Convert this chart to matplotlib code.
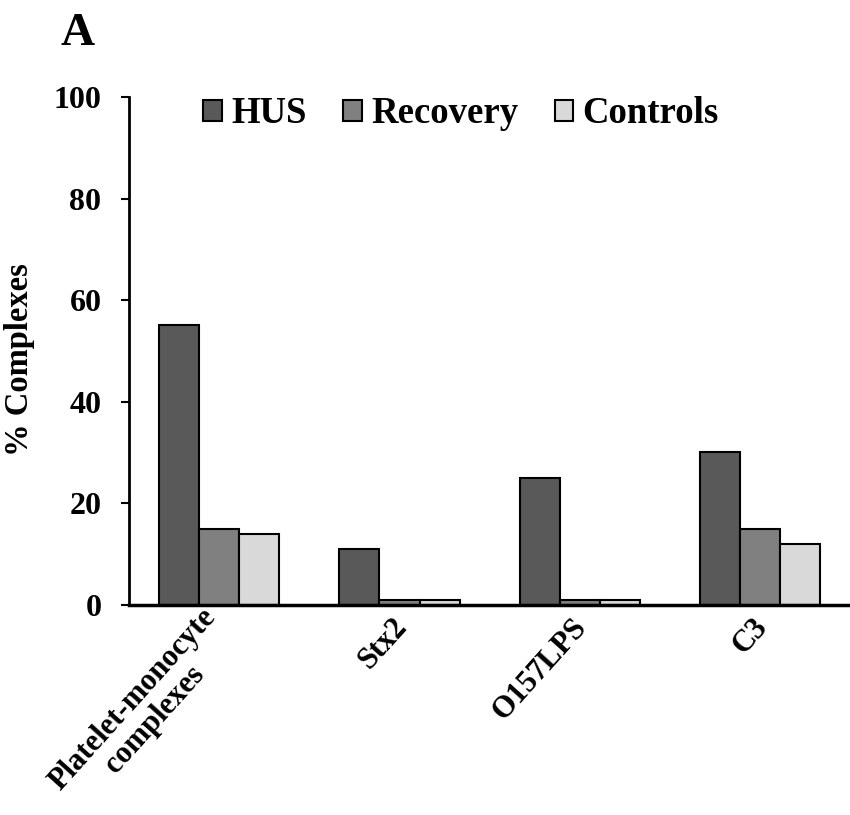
import matplotlib
matplotlib.use("Agg")
import matplotlib.pyplot as plt
import numpy as np

categories = ["Platelet-monocyte\ncomplexes", "Stx2", "O157LPS", "C3"]
series = ["HUS", "Recovery", "Controls"]
hus = [55, 11, 25, 30]
recovery = [15, 1, 1, 15]
controls = [14, 1, 1, 12]
colors = ["#595959", "#808080", "#d9d9d9"]

plt.rcParams["font.family"] = ["Liberation Serif", "DejaVu Serif"]
plt.rcParams["font.weight"] = "bold"

fig = plt.figure(figsize=(8.5, 8.15), dpi=100)
ax = fig.add_axes([0.152, 0.258, 0.848, 0.623])

x = np.arange(len(categories))
w = 0.222
for i, (vals, name) in enumerate(zip([hus, recovery, controls], series)):
    ax.bar(x + (i - 1) * w, vals, width=w, color=colors[i], edgecolor="black",
           linewidth=1.5, label=name, zorder=2)

ax.set_xlim(-0.5, 3.5)
ax.set_ylim(0, 100)
ax.set_yticks([0, 20, 40, 60, 80, 100])
ax.tick_params(axis="y", labelsize=23, length=6, width=1.5, direction="out", pad=14)
ax.set_xticks(x)
ax.set_xticklabels(categories, rotation=48, ha="right", va="center_baseline",
                   rotation_mode="anchor", fontsize=22, fontweight="bold",
                   multialignment="center", linespacing=1.05)
ax.tick_params(axis="x", length=0, pad=11)
for lab in ax.get_yticklabels():
    lab.set_fontweight("bold")

for s in ["top", "right"]:
    ax.spines[s].set_visible(False)
ax.spines["left"].set_linewidth(2)
ax.spines["bottom"].set_linewidth(2.5)
ax.spines["bottom"].set_zorder(3)

ax.set_ylabel("% Complexes", fontsize=23.5, fontweight="bold")
ax.yaxis.set_label_coords(-0.130, 0.482)

leg = ax.legend(ncol=3, loc="upper left", bbox_to_anchor=(0.103, 1.001),
                frameon=False, handlelength=0.5, handleheight=0.5,
                handletextpad=0.25, columnspacing=1.0,
                borderpad=0, borderaxespad=0,
                prop={"weight": "bold", "size": 26.5})

fig.text(0.071, 0.945, "A", fontsize=34, fontweight="bold")

fig.savefig("out.png", dpi=100)
